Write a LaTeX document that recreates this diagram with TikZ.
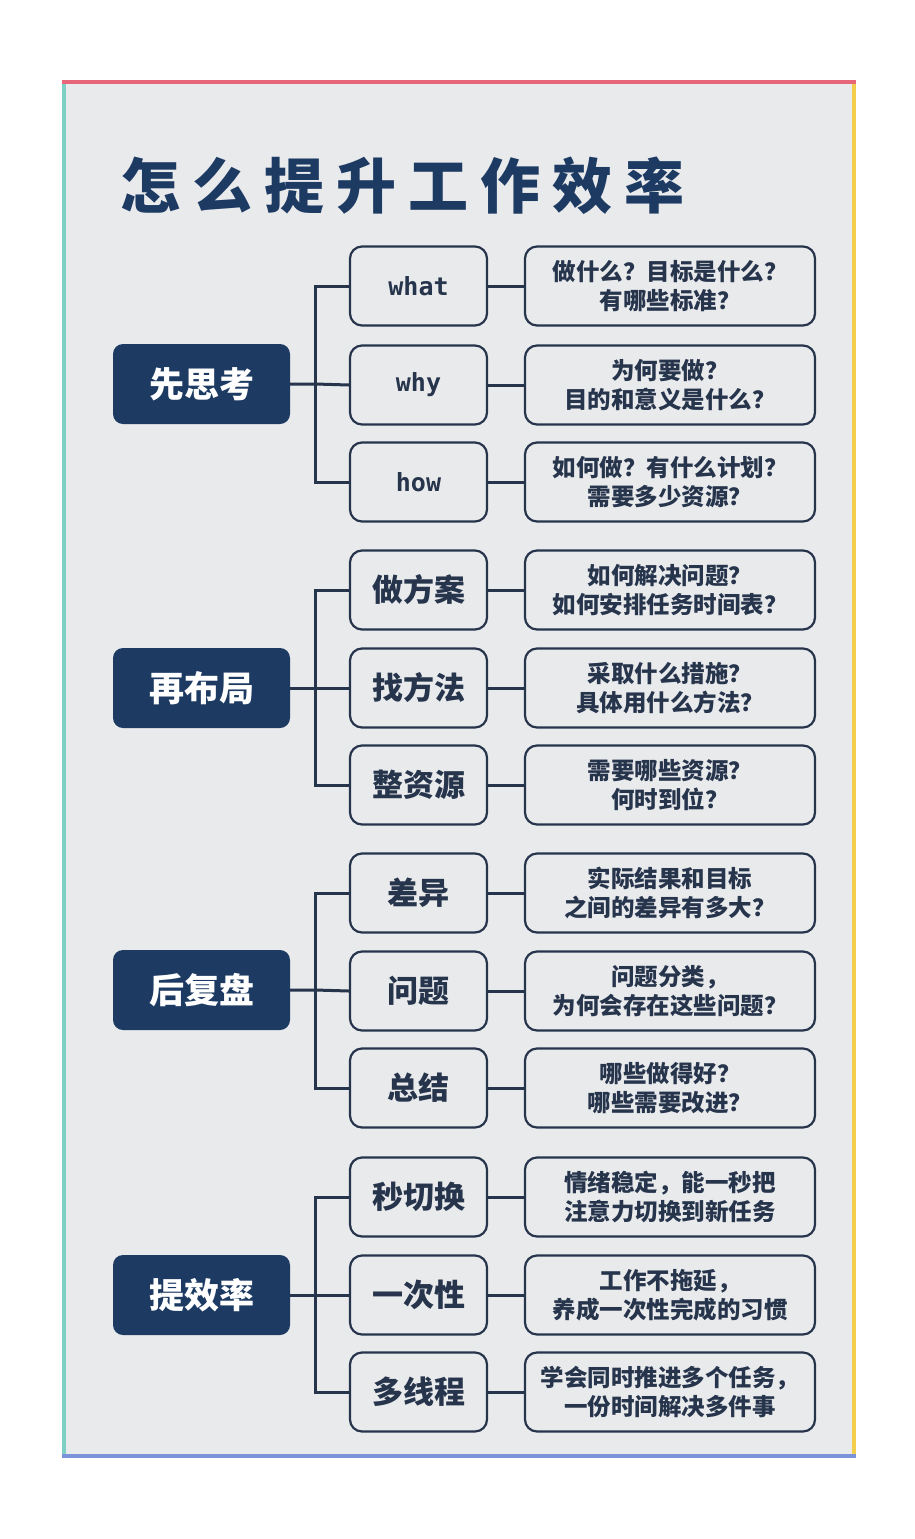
\documentclass[tikz,border=0pt]{standalone}
\usepackage{fontspec}
\newfontfamily\cjk{Noto Sans CJK SC}
\newfontfamily\monof{DejaVu Sans Mono}
\definecolor{navy}{HTML}{1D3A63}
\definecolor{lineC}{HTML}{26344C}
\definecolor{txtC}{HTML}{26344C}
\definecolor{bgray}{HTML}{E9EAEC}
\definecolor{topC}{HTML}{E8667A}
\definecolor{leftC}{HTML}{7ECFC4}
\definecolor{rightC}{HTML}{F3CD4C}
\definecolor{botC}{HTML}{7B93D8}
\begin{document}
\begin{tikzpicture}[x=1pt,y=-1pt,
  mainbox/.style={rectangle, rounded corners=10pt, fill=navy, minimum width=177pt, minimum height=80pt, text=white, font=\cjk\bfseries\fontsize{35}{35}\selectfont, inner sep=0pt},
  midbox/.style={rectangle, rounded corners=12pt, draw=lineC, line width=2.2pt, fill=bgray, minimum width=137pt, minimum height=79pt, text=txtC, inner sep=0pt},
  midcn/.style={midbox, font=\cjk\bfseries\fontsize{31}{31}\selectfont},
  miden/.style={midbox, font=\monof\bfseries\fontsize{25}{25}\selectfont},
  rightbox/.style={rectangle, rounded corners=12pt, draw=lineC, line width=2.2pt, fill=bgray, minimum width=290pt, minimum height=79pt, text=txtC, align=center, inner sep=0pt, font=\cjk\bfseries\fontsize{23.5}{29}\selectfont},
  conn/.style={draw=lineC, line width=3pt},
  edge/.style={line width=4pt}
]
\useasboundingbox (0,0) rectangle (915,1539);
\fill[white] (0,0) rectangle (915,1539);
\fill[bgray] (62,80) rectangle (856,1458);
\draw[edge, leftC] (64,80) -- (64,1458);
\draw[edge, rightC] (854,80) -- (854,1458);
\draw[edge, topC] (62,82) -- (856,82);
\draw[edge, botC] (62,1456) -- (856,1456);

\node (title) at (402,186) [text=navy, font=\cjk\bfseries\fontsize{60}{60}\selectfont, inner sep=0pt]
  {怎\hspace{12pt}么\hspace{12pt}提\hspace{12pt}升\hspace{12pt}工\hspace{12pt}作\hspace{12pt}效\hspace{12pt}率};

% group 1
\node[mainbox] (m1) at (201.5,384) {先思考};
\node[miden] (a1) at (418.5,286) {what};
\node[miden] (b1) at (418.5,385) {why};
\node[miden] (c1) at (418.5,482) {how};
\node[rightbox] (ra1) at (670,286) {做什么？目标是什么？\\有哪些标准？};
\node[rightbox] (rb1) at (670,385) {为何要做？\\目的和意义是什么？};
\node[rightbox] (rc1) at (670,482) {如何做？有什么计划？\\需要多少资源？};
\coordinate (j1) at (315,384);

% group 2
\node[mainbox] (m2) at (201.5,688) {再布局};
\node[midcn] (a2) at (418.5,590) {做方案};
\node[midcn] (b2) at (418.5,688) {找方法};
\node[midcn] (c2) at (418.5,785) {整资源};
\node[rightbox] (ra2) at (670,590) {如何解决问题？\\如何安排任务时间表？};
\node[rightbox] (rb2) at (670,688) {采取什么措施？\\具体用什么方法？};
\node[rightbox] (rc2) at (670,785) {需要哪些资源？\\何时到位？};
\coordinate (j2) at (315,688);

% group 3
\node[mainbox] (m3) at (201.5,990) {后复盘};
\node[midcn] (a3) at (418.5,893) {差异};
\node[midcn] (b3) at (418.5,991) {问题};
\node[midcn] (c3) at (418.5,1088) {总结};
\node[rightbox] (ra3) at (670,893) {实际结果和目标\\之间的差异有多大？};
\node[rightbox] (rb3) at (670,991) {问题分类，\\为何会存在这些问题？};
\node[rightbox] (rc3) at (670,1088) {哪些做得好？\\哪些需要改进？};
\coordinate (j3) at (315,990);

% group 4
\node[mainbox] (m4) at (201.5,1295) {提效率};
\node[midcn] (a4) at (418.5,1197) {秒切换};
\node[midcn] (b4) at (418.5,1295) {一次性};
\node[midcn] (c4) at (418.5,1392) {多线程};
\node[rightbox] (ra4) at (670,1197) {情绪稳定，能一秒把\\注意力切换到新任务};
\node[rightbox] (rb4) at (670,1295) {工作不拖延，\\养成一次性完成的习惯};
\node[rightbox] (rc4) at (670,1392) {学会同时推进多个任务，\\一份时间解决多件事};
\coordinate (j4) at (315,1295);

\foreach \g in {1,2,3,4}{
  \draw[conn] (m\g.east) -- (j\g) -- (b\g.west);
  \draw[conn] (a\g.west) -| (j\g) |- (c\g.west);
  \draw[conn] (a\g.east) -- (ra\g.west);
  \draw[conn] (b\g.east) -- (rb\g.west);
  \draw[conn] (c\g.east) -- (rc\g.west);
}
\end{tikzpicture}
\end{document}
